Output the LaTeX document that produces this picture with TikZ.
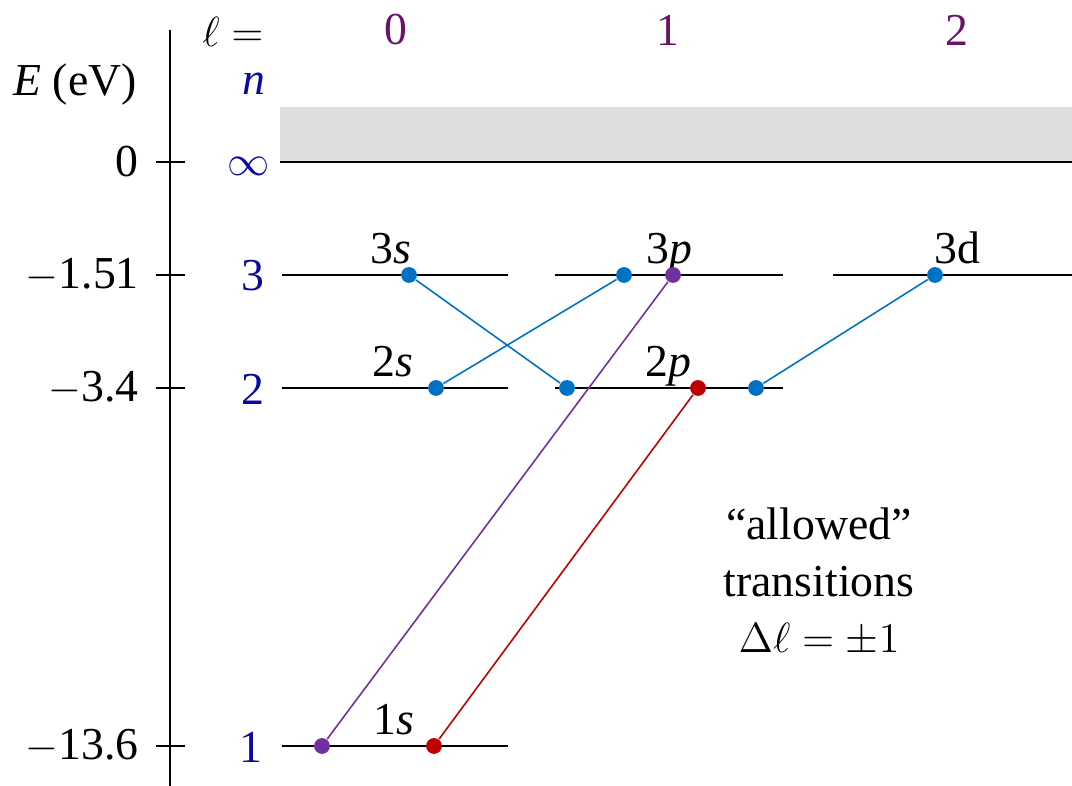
\documentclass[tikz,border=0pt]{standalone}
\usepackage{fontspec}
\setmainfont{Liberation Serif}
\usepackage{tikz}
\usetikzlibrary{positioning,calc}
\usepackage{xcolor}

\definecolor{tblue}{RGB}{0,114,198}
\definecolor{tpurple}{RGB}{112,48,160}
\definecolor{tred}{RGB}{192,0,0}
\definecolor{nblue}{RGB}{10,10,160}
\definecolor{lpurple}{RGB}{105,20,105}

\tikzset{
  level/.style={line width=0.6pt},
  dot/.style={circle, fill=#1, inner sep=0pt, minimum size=4.5pt},
  trans/.style={line width=0.45pt, draw=#1},
  lab/.style={anchor=base}
}

\begin{document}
\begin{tikzpicture}[x=0.01cm, y=-0.01cm, every node/.style={font=\fontsize{13}{16}\selectfont}]
            \useasboundingbox (0,0) rectangle (1072,786);
            % Continuum
            \fill[black!13] (280,107) rectangle (1072,161);
            \draw[line width=0.6pt] (280,162) -- (1072,162);

            % Energy axis
            \draw[level] (170,30) -- (170,786);
            \foreach \y/\e in {162/0, 275/$-$1.51, 388/$-$3.4, 746/$-$13.6}
              \draw[level] (156,\y) -- (185,\y) node[anchor=east, xshift=-9.5pt] {\e};
            \node (elab) at (75,85) {\textit{E} (eV)};

            % Quantum numbers
            \node (ell) at (233,32) {$\ell =$};
            \node[text=lpurple] (l0) at (396,30) {0};
            \node[text=lpurple] (l1) at (668,30) {1};
            \node[text=lpurple] (l2) at (957,30) {2};
            \node[text=nblue] (nlab) at (254,84) {\textit{n}};
            \node[text=nblue] (ninf) at (249,166) {$\infty$};
            \node[text=nblue] (n3) at (253,276) {3};
            \node[text=nblue] (n2) at (253,389) {2};
            \node[text=nblue] (n1) at (251,747) {1};

            % Levels
            \draw[level] (282,275) -- (508,275);
            \draw[level] (555,275) -- (783,275);
            \draw[level] (833,275) -- (1072,275);
            \draw[level] (282,388) -- (508,388);
            \draw[level] (555,388) -- (783,388);
            \draw[level] (282,746) -- (508,746);

            \node[lab] (s3) at (391,264) {3\textit{s}};
            \node[lab] (s2) at (393,377) {2\textit{s}};
            \node[lab] (s1) at (394,735) {1\textit{s}};
            \node[lab] (p3) at (669,264) {3\textit{p}};
            \node[lab] (p2) at (668,377) {2\textit{p}};
            \node[lab] (d3) at (957,264) {3d};

            % States
            \node[dot=tblue] (a3s) at (409,275) {};
            \node[dot=tblue] (a2s) at (436,388) {};
            \node[dot=tblue] (a3p) at (624,275) {};
            \node[dot=tpurple] (b3p) at (673,275) {};
            \node[dot=tblue] (a2p) at (567,388) {};
            \node[dot=tred] (b2p) at (698,388) {};
            \node[dot=tblue] (c2p) at (756,388) {};
            \node[dot=tblue] (a3d) at (935,275) {};
            \node[dot=tpurple] (a1s) at (322,746) {};
            \node[dot=tred] (b1s) at (434,746) {};

            % Transitions
            \draw[trans=tblue] (a3s) -- (a2p);
            \draw[trans=tblue] (a2s) -- (a3p);
            \draw[trans=tblue] (c2p) -- (a3d);
            \draw[trans=tpurple] (a1s) -- (b3p);
            \draw[trans=tred] (b1s) -- (b2p);

            \node[align=center] (rule) at (819,582) {“allowed”\\transitions\\$\Delta\ell = \pm 1$};
        \end{tikzpicture}
\end{document}
